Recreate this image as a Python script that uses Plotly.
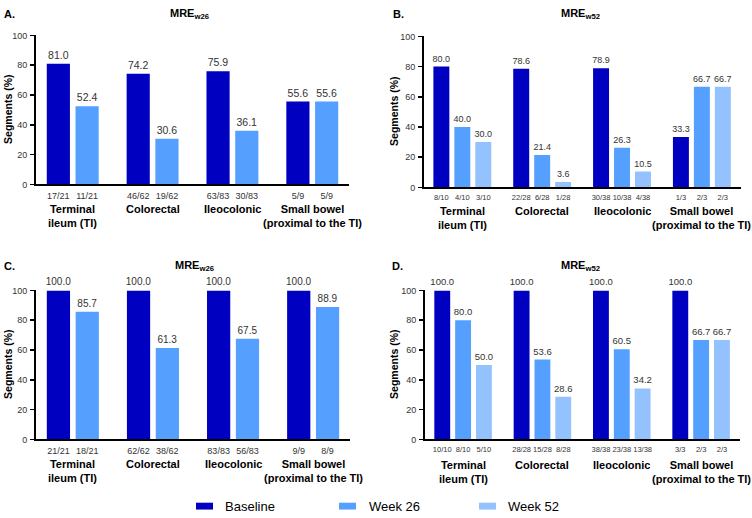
import plotly.graph_objects as go

# ---------------- data ----------------
categories = ["Terminal<br>ileum (TI)", "Colorectal", "Ileocolonic", "Small bowel<br>(proximal to the TI)"]
series_names = ["Baseline", "Week 26", "Week 52"]

A_baseline = [81.0, 74.2, 75.9, 55.6]
A_week26 = [52.4, 30.6, 36.1, 55.6]
A_frac_baseline = ["17/21", "46/62", "63/83", "5/9"]
A_frac_week26 = ["11/21", "19/62", "30/83", "5/9"]

B_baseline = [80.0, 78.6, 78.9, 33.3]
B_week26 = [40.0, 21.4, 26.3, 66.7]
B_week52 = [30.0, 3.6, 10.5, 66.7]
B_frac_baseline = ["8/10", "22/28", "30/38", "1/3"]
B_frac_week26 = ["4/10", "6/28", "10/38", "2/3"]
B_frac_week52 = ["3/10", "1/28", "4/38", "2/3"]

C_baseline = [100.0, 100.0, 100.0, 100.0]
C_week26 = [85.7, 61.3, 67.5, 88.9]
C_frac_baseline = ["21/21", "62/62", "83/83", "9/9"]
C_frac_week26 = ["18/21", "38/62", "56/83", "8/9"]

D_baseline = [100.0, 100.0, 100.0, 100.0]
D_week26 = [80.0, 53.6, 60.5, 66.7]
D_week52 = [50.0, 28.6, 34.2, 66.7]
D_frac_baseline = ["10/10", "28/28", "38/38", "3/3"]
D_frac_week26 = ["8/10", "15/28", "23/38", "2/3"]
D_frac_week52 = ["5/10", "8/28", "13/38", "2/3"]

panel_titles = ["MRE<sub>w26</sub>", "MRE<sub>w52</sub>", "MRE<sub>w26</sub>", "MRE<sub>w52</sub>"]
panel_letters = ["A.", "B.", "C.", "D."]

# ---------------- style ----------------
W, H = 752, 518
FONT = "Liberation Sans, Arial, sans-serif"
colors = {"Baseline": "#0000C0", "Week 26": "#55A0FF", "Week 52": "#93C2FF"}

def fx(p):
    return p / W

def fy(p):
    return 1 - p / H

panels = [
    dict(series=[("Baseline", A_baseline, A_frac_baseline), ("Week 26", A_week26, A_frac_week26)],
         xdom=(36, 349), ydom=(31, 183), xr=(-0.46, 3.46), offsets=[-0.18, 0.18], width=0.29,
         vfont=10.5, ffont=9, cat_top=200, title_xy=(189, 9), letter_xy=(9, 9), ytitle_x=8),
    dict(series=[("Baseline", B_baseline, B_frac_baseline), ("Week 26", B_week26, B_frac_week26),
                 ("Week 52", B_week52, B_frac_week52)],
         xdom=(424, 741), ydom=(32, 186), xr=(-0.48, 3.49), offsets=[-0.2625, 0.0, 0.2625], width=0.2,
         vfont=9, ffont=7.5, cat_top=202, title_xy=(580, 9), letter_xy=(398, 9), ytitle_x=394),
    dict(series=[("Baseline", C_baseline, C_frac_baseline), ("Week 26", C_week26, C_frac_week26)],
         xdom=(36, 350), ydom=(291, 443), xr=(-0.46, 3.46), offsets=[-0.18, 0.18], width=0.29,
         vfont=10, ffont=9, cat_top=460, title_xy=(194, 266), letter_xy=(9, 266), ytitle_x=8),
    dict(series=[("Baseline", D_baseline, D_frac_baseline), ("Week 26", D_week26, D_frac_week26),
                 ("Week 52", D_week52, D_frac_week52)],
         xdom=(425, 740), ydom=(291, 443), xr=(-0.48, 3.49), offsets=[-0.2625, 0.0, 0.2625], width=0.2,
         vfont=9.5, ffont=7.5, cat_top=461, title_xy=(580, 266), letter_xy=(397, 266), ytitle_x=394),
]

# legend layout (pixels): swatch left edge, text left edge
legend_pos = {"Baseline": (196, 223), "Week 26": (339, 367), "Week 52": (479, 506)}
LEG_Y = 511

fig = go.Figure()
annotations = []
shapes = []

for i, p in enumerate(panels):
    n = "" if i == 0 else str(i + 1)
    xa, ya = "x" + n, "y" + n
    tickvals, ticktext = [], []
    for (name, vals, fracs), off in zip(p["series"], p["offsets"]):
        xs = [g + off for g in range(len(categories))]
        tickvals += xs
        ticktext += fracs
        fig.add_trace(go.Bar(
            x=xs, y=vals, width=p["width"], name=name, xaxis=xa, yaxis=ya,
            marker=dict(color=colors[name], line=dict(width=0)),
            text=[f"{v:.1f}" for v in vals], textposition="outside", cliponaxis=False,
            constraintext="none",
            textfont=dict(family=FONT, size=p["vfont"], color="#333333"),
            showlegend=False, hoverinfo="skip",
        ))
    xkey = "xaxis" + n
    ykey = "yaxis" + n
    fig.layout[xkey] = dict(
        domain=[fx(p["xdom"][0]), fx(p["xdom"][1])], anchor=ya, range=list(p["xr"]),
        showline=True, linecolor="black", linewidth=2, showgrid=False, zeroline=False,
        ticks="", tickvals=tickvals, ticktext=ticktext, ticklabelstandoff=2,
        tickfont=dict(family=FONT, size=p["ffont"], color="#333333"), fixedrange=True,
    )
    fig.layout[ykey] = dict(
        domain=[fy(p["ydom"][1]), fy(p["ydom"][0])], anchor=xa, range=[0, 100],
        showline=True, linecolor="black", linewidth=2, showgrid=False, zeroline=False,
        ticks="outside", ticklen=4, tickwidth=1.5, tickcolor="black", dtick=20, tick0=0,
        tickfont=dict(family=FONT, size=9, color="#333333"), ticklabelstandoff=1, fixedrange=True,
    )
    for g, cat in enumerate(categories):
        annotations.append(dict(
            x=g, xref=xa, y=fy(p["cat_top"]), yref="paper", yanchor="top", xanchor="center",
            text="<b>" + cat + "</b>", showarrow=False,
            font=dict(family=FONT, size=11, color="black"),
        ))
    annotations.append(dict(
        x=fx(p["title_xy"][0]), y=fy(p["title_xy"][1]), xref="paper", yref="paper",
        xanchor="center", yanchor="middle", text="<b>" + panel_titles[i] + "</b>",
        showarrow=False, font=dict(family=FONT, size=11, color="black"),
    ))
    annotations.append(dict(
        x=fx(p["letter_xy"][0]), y=fy(p["letter_xy"][1]), xref="paper", yref="paper",
        xanchor="center", yanchor="middle", text="<b>" + panel_letters[i] + "</b>",
        showarrow=False, font=dict(family=FONT, size=11, color="black"),
    ))
    annotations.append(dict(
        x=fx(p["ytitle_x"]), y=fy((p["ydom"][0] + p["ydom"][1]) / 2), xref="paper", yref="paper",
        xanchor="center", yanchor="middle", text="<b>Segments (%)</b>", textangle=-90,
        showarrow=False, font=dict(family=FONT, size=10.5, color="black"),
    ))

# legend drawn as swatches + labels
for name in series_names:
    sx, tx = legend_pos[name]
    shapes.append(dict(type="rect", xref="paper", yref="paper",
                       x0=fx(sx), x1=fx(sx + 17), y0=fy(LEG_Y + 3.5), y1=fy(LEG_Y - 3.5),
                       fillcolor=colors[name], line=dict(width=0)))
    annotations.append(dict(x=fx(tx), y=fy(LEG_Y), xref="paper", yref="paper",
                            xanchor="left", yanchor="middle", text=name, showarrow=False,
                            font=dict(family=FONT, size=13, color="black")))

fig.update_layout(
    width=W, height=H, margin=dict(l=0, r=0, t=0, b=0),
    paper_bgcolor="white", plot_bgcolor="white",
    barmode="overlay", annotations=annotations, shapes=shapes,
    font=dict(family=FONT), hovermode=False, showlegend=False,
)

fig.write_html("out.html", config={"displayModeBar": False, "staticPlot": True},
               post_script="document.body.style.margin='0';document.body.style.overflow='hidden';")
